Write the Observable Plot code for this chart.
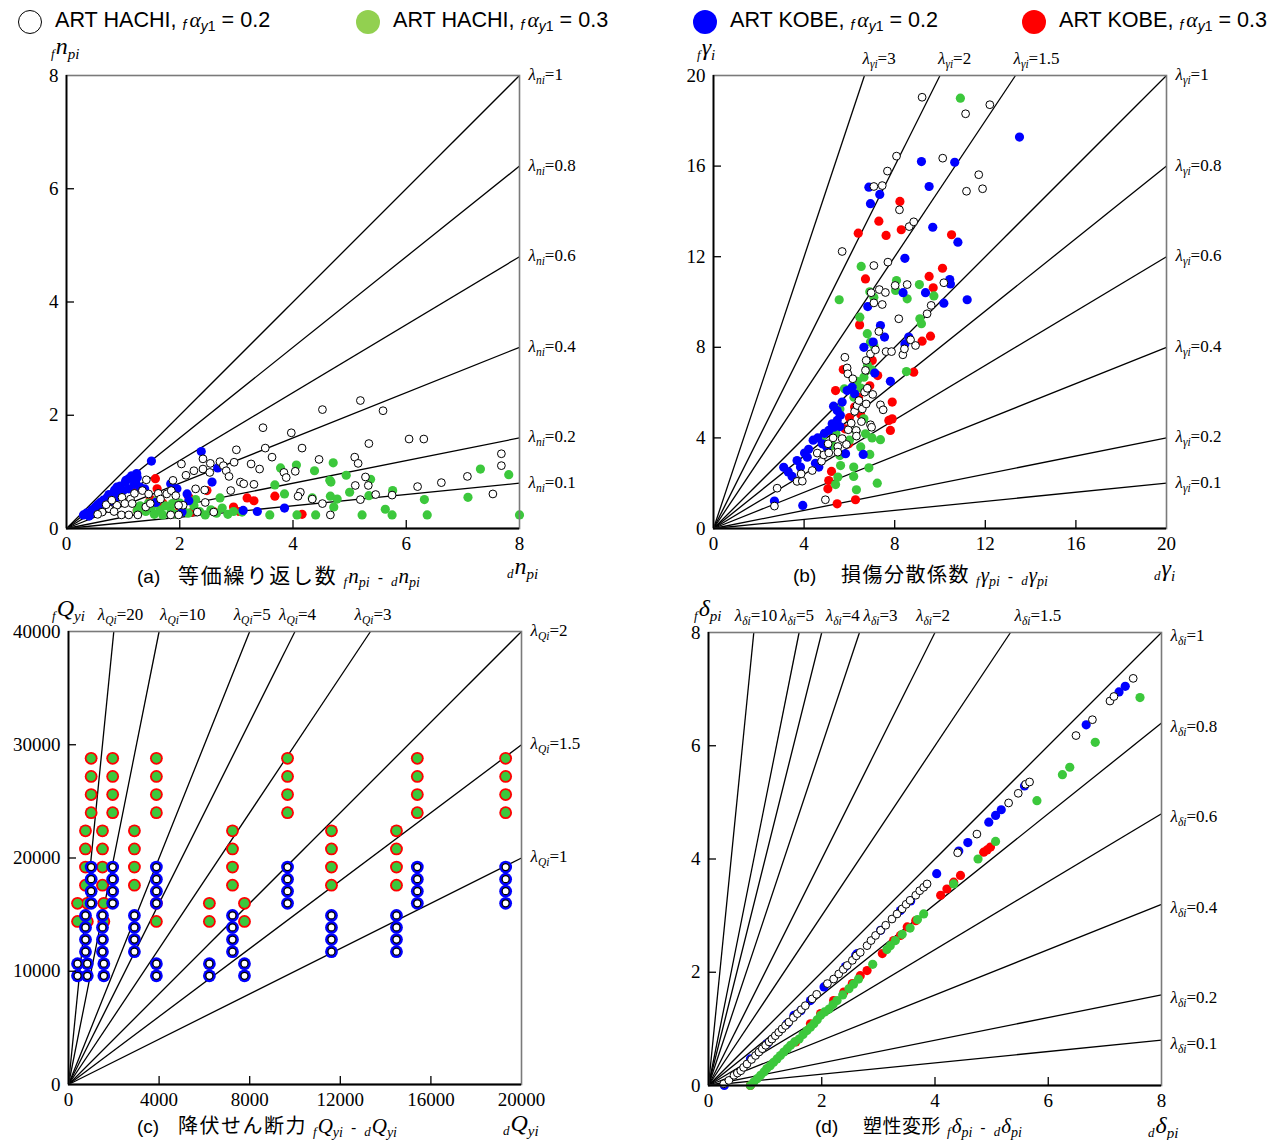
<!DOCTYPE html>
<html lang="ja">
<head>
<meta charset="utf-8">
<script src="https://cdn.jsdelivr.net/npm/d3@7"></script>
<script src="https://cdn.jsdelivr.net/npm/@observablehq/plot@0.6"></script>
<style>
html,body{margin:0;padding:0;background:#fff;overflow:hidden;}
#page{position:relative;width:1282px;height:1140px;font-family:"Liberation Sans",Arial,"Noto Sans CJK JP",sans-serif;color:#000;}
.leg{position:absolute;top:11px;height:22px;display:flex;align-items:center;font-size:21.6px;white-space:nowrap;line-height:22px;}
.mk{display:inline-block;width:24px;height:24px;border-radius:50%;box-sizing:border-box;margin-right:13px;}
.leg .fa{font-family:"Liberation Serif","Times New Roman",serif;font-style:italic;}
.leg .pf{font-size:14px;font-style:italic;vertical-align:-3px;margin-right:3px;}
.leg sub{font-size:14px;vertical-align:-4px;line-height:0;}
.ax{position:absolute;white-space:nowrap;font-family:"Liberation Serif","Times New Roman",serif;font-style:italic;line-height:1;}
.ax .p{font-size:13px;vertical-align:-4px;margin-right:1px;}
.ax .m{font-size:24px;}
.ax .s{font-size:15px;vertical-align:-5px;}
.cap{position:absolute;white-space:nowrap;height:20px;line-height:20px;font-size:19px;display:flex;align-items:baseline;}
.cap .lb{display:inline-block;}
.cap .jp{font-family:"Noto Sans CJK JP",sans-serif;font-size:20px;letter-spacing:1.5px;}
.cap .fm{font-family:"Liberation Serif","Times New Roman",serif;font-style:italic;margin-left:6px;}
.cap .fm .p{font-size:13px;vertical-align:-3px;margin-right:1px;}
.cap .fm .m{font-size:21px;}
.cap .fm .s{font-size:14px;vertical-align:-4px;}
.cap .fm .g{margin:0 8px;font-style:normal;font-family:"Liberation Sans",Arial,sans-serif;font-size:16px;}
.pn{position:absolute;}
</style>
</head>
<body>
<div id="page">
  <div class="leg" style="left:18px"><span class="mk" style="background:#fff;border:1.5px solid #000"></span><span>ART HACHI, <span class="pf">f</span><span class="fa">α</span><sub><i>y</i>1</sub> = 0.2</span></div>
  <div class="leg" style="left:356px"><span class="mk" style="background:#92d050"></span><span>ART HACHI, <span class="pf">f</span><span class="fa">α</span><sub><i>y</i>1</sub> = 0.3</span></div>
  <div class="leg" style="left:693px"><span class="mk" style="background:#0000ff"></span><span>ART KOBE, <span class="pf">f</span><span class="fa">α</span><sub><i>y</i>1</sub> = 0.2</span></div>
  <div class="leg" style="left:1022px"><span class="mk" style="background:#ff0000"></span><span>ART KOBE, <span class="pf">f</span><span class="fa">α</span><sub><i>y</i>1</sub> = 0.3</span></div>

  <div class="pn" id="pa" style="left:0px;top:40px;width:640px;height:530px"></div>
  <div class="pn" id="pb" style="left:640px;top:40px;width:642px;height:530px"></div>
  <div class="pn" id="pc" style="left:0px;top:595px;width:640px;height:525px"></div>
  <div class="pn" id="pd" style="left:640px;top:595px;width:642px;height:525px"></div>

  <div class="ax" style="left:51px;top:34px"><span class="p">f</span><span class="m">n</span><span class="s">pi</span></div>
  <div class="ax" style="left:697px;top:35px"><span class="p">f</span><span class="m">γ</span><span class="s">i</span></div>
  <div class="ax" style="left:52px;top:596px"><span class="p">f</span><span class="m">Q</span><span class="s">yi</span></div>
  <div class="ax" style="left:694px;top:596px"><span class="p">f</span><span class="m">δ</span><span class="s">pi</span></div>

  <div class="ax" style="left:507px;top:554px"><span class="p">d</span><span class="m">n</span><span class="s">pi</span></div>
  <div class="ax" style="left:1154px;top:556px"><span class="p">d</span><span class="m">γ</span><span class="s">i</span></div>
  <div class="ax" style="left:503px;top:1111px"><span class="p">d</span><span class="m">Q</span><span class="s">yi</span></div>
  <div class="ax" style="left:1148px;top:1113px"><span class="p">d</span><span class="m">δ</span><span class="s">pi</span></div>

  <div class="cap" style="left:137px;top:564px"><span class="lb" style="width:41px">(a)</span><span class="jp" style="font-size:21px;letter-spacing:1.8px">等価繰り返し数</span><span class="fm"><span class="p">f</span><span class="m">n</span><span class="s">pi</span><span class="g">-</span><span class="p">d</span><span class="m">n</span><span class="s">pi</span></span></div>
  <div class="cap" style="left:793px;top:564px"><span class="lb" style="width:48px">(b)</span><span class="jp">損傷分散係数</span><span class="fm"><span class="p">f</span><span class="m">γ</span><span class="s">pi</span><span class="g">-</span><span class="p">d</span><span class="m">γ</span><span class="s">pi</span></span></div>
  <div class="cap" style="left:137px;top:1115px"><span class="lb" style="width:41px">(c)</span><span class="jp">降伏せん断力</span><span class="fm"><span class="p">f</span><span class="m">Q</span><span class="s">yi</span><span class="g">-</span><span class="p">d</span><span class="m">Q</span><span class="s">yi</span></span></div>
  <div class="cap" style="left:815px;top:1115px"><span class="lb" style="width:48px">(d)</span><span class="jp" style="font-size:19px;letter-spacing:0.5px">塑性変形</span><span class="fm"><span class="p">f</span><span class="m">δ</span><span class="s">pi</span><span class="g">-</span><span class="p">d</span><span class="m">δ</span><span class="s">pi</span></span></div>
</div>
<script>
// ---------------- DATA ----------------
// ratio lines (λ) per panel
const aLams = [1, 0.8, 0.6, 0.4, 0.2, 0.1];
const bLams = [3, 2, 1.5, 1, 0.8, 0.6, 0.4, 0.2, 0.1];
const cLams = [20, 10, 5, 4, 3, 2, 1.5, 1];
const dLams = [10, 5, 4, 3, 2, 1.5, 1, 0.8, 0.6, 0.4, 0.2, 0.1];

// tick labels
const aTicks = [0, 2, 4, 6, 8];
const bTicks = [0, 4, 8, 12, 16, 20];
const cTicksX = [0, 4000, 8000, 12000, 16000, 20000];
const cTicksY = [0, 10000, 20000, 30000, 40000];
const dTicks = [0, 2, 4, 6, 8];

// (a) equivalent number of cycles  [d n_pi, f n_pi]
const aHachi02 = [[5.19,2.26],[4.52,2.10],[5.59,2.08],[3.47,1.78],[3.97,1.69],[6.05,1.58],[6.31,1.58],[5.34,1.50],[3.00,1.39],[3.51,1.42],[4.16,1.42],[3.63,1.26],[4.46,1.22],[5.09,1.26],[5.15,1.15],[7.68,1.32],[7.68,1.11],[2.03,1.14],[2.41,1.23],[2.54,1.15],[2.71,1.18],[2.77,1.11],[2.96,1.17],[3.26,1.14],[3.41,1.05],[2.25,1.02],[2.41,1.05],[2.53,0.99],[2.11,0.94],[2.82,1.02],[2.87,0.92],[3.84,0.99],[4.04,1.01],[3.88,0.90],[5.28,0.91],[3.07,0.82],[3.13,0.79],[3.31,0.78],[7.08,0.92],[6.62,0.81],[6.20,0.74],[5.10,0.76],[5.33,0.76],[1.88,0.85],[1.41,0.86],[2.28,0.70],[2.44,0.68],[2.90,0.67],[4.13,0.64],[4.09,0.57],[4.34,0.52],[5.46,0.60],[5.75,0.59],[7.53,0.61],[4.52,0.44],[5.19,0.51],[4.66,0.24],[1.34,0.67],[1.45,0.61],[1.62,0.62],[1.77,0.61],[1.85,0.67],[1.93,0.58],[0.98,0.55],[1.13,0.52],[0.89,0.41],[1.03,0.44],[1.16,0.44],[0.75,0.35],[0.84,0.30],[0.97,0.24],[1.10,0.24],[1.26,0.24],[0.63,0.29],[1.40,0.38],[1.48,0.44],[1.66,0.52],[1.84,0.24],[1.98,0.24],[2.06,0.41],[1.98,0.41],[2.31,0.29],[2.45,0.46],[2.60,0.29],[0.55,0.25],[0.70,0.42],[1.20,0.62],[0.80,0.50]];
const aHachi03 = [[3.78,1.07],[4.06,1.12],[4.38,1.02],[4.71,1.16],[4.94,0.94],[4.65,0.85],[4.67,0.82],[5.37,0.87],[7.31,1.05],[7.81,0.95],[3.68,0.77],[3.85,0.61],[4.34,0.54],[4.66,0.57],[4.78,0.52],[5.00,0.64],[4.72,0.38],[5.34,0.58],[5.76,0.67],[5.63,0.34],[5.75,0.24],[6.32,0.51],[6.37,0.24],[7.09,0.55],[8.00,0.24],[5.22,0.24],[4.40,0.24],[4.07,0.24],[3.59,0.24],[3.10,0.29],[2.71,0.54],[2.28,0.51],[1.87,0.44],[1.40,0.30],[1.50,0.38],[1.55,0.25],[1.65,0.33],[1.70,0.24],[1.75,0.40],[1.85,0.30],[1.95,0.25],[2.05,0.35],[2.15,0.27],[2.25,0.40],[2.35,0.30],[2.45,0.24],[2.55,0.33],[2.65,0.27],[2.75,0.36],[2.85,0.25],[2.95,0.30],[1.30,0.40],[1.45,0.45],[1.60,0.50],[1.25,0.32],[2.00,0.45]];
const aKobe02 = [[2.38,1.36],[1.50,1.19],[1.16,0.91],[1.24,0.97],[1.10,0.88],[1.04,0.82],[0.89,0.73],[0.84,0.64],[0.72,0.55],[0.60,0.46],[0.51,0.38],[0.42,0.26],[1.22,0.82],[1.30,0.73],[1.00,0.67],[1.84,0.79],[1.95,0.70],[2.13,0.61],[2.57,0.82],[2.67,1.07],[2.16,0.49],[3.37,0.30],[3.85,0.36],[3.12,0.32],[2.04,0.29],[0.35,0.27],[0.45,0.33],[0.55,0.42],[0.65,0.50],[0.75,0.60],[0.85,0.68],[0.95,0.75],[1.05,0.85],[1.15,0.93],[1.20,0.78],[1.10,0.70],[0.95,0.62],[0.90,0.55],[0.80,0.48],[0.70,0.40],[0.60,0.35],[1.25,0.90],[0.30,0.24],[0.40,0.22],[1.38,0.70],[1.58,0.46]];
const aKobe03 = [[3.19,0.54],[3.31,0.49],[3.68,0.57],[4.16,0.25],[2.95,0.38],[2.48,0.67],[2.16,0.55],[1.57,0.88],[1.60,0.70],[1.24,0.72],[1.48,0.52],[2.22,0.29],[1.25,0.32],[1.70,0.45],[2.00,0.36],[2.60,0.30],[3.05,0.30]];

// (b) damage dispersion factor [d γ_i, f γ_i]
const bHachi02 = [[9.21,19.04],[11.13,18.31],[12.20,18.71],[10.12,16.35],[8.08,16.44],[7.68,15.78],[7.08,15.10],[7.45,15.14],[11.71,15.62],[11.17,14.89],[11.88,15.00],[8.21,14.07],[8.64,13.33],[8.84,13.54],[5.68,12.23],[7.08,11.61],[7.70,11.76],[10.17,10.85],[8.02,10.73],[6.96,10.41],[7.32,10.55],[7.59,10.42],[8.55,10.77],[2.81,1.78],[2.69,0.99],[3.69,2.08],[3.92,2.09],[3.87,2.41],[4.36,2.56],[4.58,3.33],[4.77,2.97],[4.87,3.25],[5.09,3.34],[5.06,3.74],[5.28,4.00],[5.49,3.62],[5.49,3.37],[5.68,3.97],[5.87,3.71],[5.95,4.36],[6.30,4.33],[6.31,4.08],[6.08,4.65],[6.53,4.72],[6.93,4.58],[6.98,4.47],[6.23,5.17],[6.34,5.43],[6.57,5.28],[6.74,5.50],[7.03,5.92],[6.67,6.02],[6.79,6.19],[6.42,5.65],[7.37,5.46],[7.49,5.24],[4.94,1.27],[5.80,7.56],[5.90,7.09],[5.93,6.83],[6.15,6.61],[6.71,6.98],[6.74,7.42],[6.93,7.71],[7.15,7.89],[7.62,7.81],[7.86,7.81],[8.36,7.67],[8.43,7.93],[8.70,8.33],[8.92,8.08],[7.30,8.70],[8.18,9.26],[9.61,9.85],[9.43,9.48],[7.08,9.96],[7.45,9.89]];
const bHachi03 = [[10.90,19.00],[6.52,11.57],[8.08,10.95],[9.09,10.77],[9.73,10.27],[8.55,10.14],[6.90,10.45],[5.55,10.10],[6.46,9.33],[6.79,8.60],[6.93,8.23],[7.08,8.08],[6.34,6.50],[6.64,6.68],[5.78,6.17],[5.58,5.28],[6.64,4.84],[6.71,4.18],[7.37,3.92],[4.80,4.03],[5.24,3.66],[5.58,3.22],[5.61,2.78],[6.19,2.71],[6.19,2.30],[6.86,2.68],[6.90,3.27],[7.23,2.00],[6.31,1.71],[5.39,1.94],[5.49,2.27],[8.52,6.93],[9.11,9.26],[9.18,9.04],[7.08,10.21],[8.04,10.51],[6.20,5.80],[6.50,6.20],[6.80,7.20],[7.00,7.00],[6.30,4.30],[6.00,3.90],[5.40,4.20],[6.50,3.60],[7.00,4.00]];
const bKobe02 = [[13.51,17.28],[9.18,16.20],[10.65,16.17],[6.86,15.07],[7.34,14.75],[6.93,14.34],[9.52,15.10],[9.68,13.30],[10.79,12.64],[8.45,11.93],[8.37,10.41],[9.36,10.41],[10.43,10.99],[10.46,10.80],[11.20,10.10],[2.69,1.21],[3.94,1.02],[3.47,2.30],[3.84,2.71],[3.69,3.00],[4.02,3.33],[4.14,3.15],[4.50,2.88],[4.65,2.71],[4.80,3.74],[5.09,4.33],[5.24,4.62],[5.46,4.77],[5.46,5.21],[5.68,5.58],[5.90,6.09],[6.12,6.24],[6.23,5.95],[5.31,4.47],[5.58,4.50],[5.83,3.30],[6.61,3.27],[7.12,6.86],[6.64,8.00],[7.05,8.23],[7.37,8.96],[7.55,8.45],[7.81,6.50],[8.62,8.45],[8.45,8.15],[10.17,9.95],[6.81,9.80],[4.40,3.90],[4.60,4.00],[4.90,4.20],[5.00,3.60],[5.60,5.00],[5.30,5.40],[3.30,2.50],[3.10,2.70],[4.20,3.50]];
const bKobe03 = [[8.23,14.44],[7.30,13.57],[6.39,13.04],[7.62,12.94],[8.29,13.19],[10.51,12.97],[6.71,11.02],[9.52,11.13],[10.11,11.49],[9.70,10.63],[5.46,1.09],[6.27,1.27],[5.05,1.75],[5.09,2.12],[5.21,2.52],[5.97,3.74],[7.81,4.33],[7.74,4.77],[7.89,4.84],[7.89,5.58],[7.25,6.75],[5.39,6.09],[5.73,7.02],[6.45,8.99],[7.01,7.42],[8.84,6.90],[9.21,8.27],[9.58,8.49],[6.23,5.36],[6.49,5.06],[6.00,4.90],[5.80,4.40],[6.40,5.80],[6.90,6.30]];

// (c) yield shear force: column values (d Q_yi) and row values (f Q_yi)
const cDQ_A = [1000, 1950, 3880, 9670, 15400, 19300];
const cDQ_B = [750, 1500, 2910, 7240, 11610, 14480];
const cDQ_C = [400, 830, 1560, 3880, 6220, 7770];
const cFQ02_A = [19200, 18130, 17070, 16000];
const cFQ02_B = [14930, 13870, 12800, 11730];
const cFQ02_C = [10670, 9600];
const cFQ03_A = [28800, 27200, 25600, 24000];
const cFQ03_B = [22400, 20800, 19200, 17600];
const cFQ03_C = [16000, 14400];

// (d) plastic deformation [d δ_pi, f δ_pi]
const dHachi02 = [[0.27,0.03],[0.36,0.09],[0.45,0.18],[0.51,0.22],[0.57,0.26],[0.62,0.32],[0.68,0.38],[0.76,0.46],[0.83,0.53],[0.89,0.59],[0.95,0.65],[1.01,0.71],[1.07,0.77],[1.12,0.82],[1.18,0.88],[1.24,0.94],[1.30,1.00],[1.36,1.06],[1.42,1.12],[1.50,1.20],[1.57,1.27],[1.64,1.34],[1.71,1.41],[1.83,1.53],[1.91,1.61],[2.10,1.80],[2.21,1.88],[2.30,1.97],[2.38,2.05],[2.45,2.12],[2.54,2.21],[2.61,2.29],[2.68,2.35],[2.80,2.47],[2.87,2.56],[2.95,2.65],[3.04,2.74],[3.13,2.83],[3.24,2.94],[3.33,3.03],[3.42,3.12],[3.49,3.20],[3.56,3.27],[3.66,3.36],[3.73,3.44],[3.80,3.50],[3.86,3.56],[4.40,4.11],[4.74,4.44],[5.30,4.99],[5.47,5.16],[5.60,5.32],[5.67,5.36],[6.49,6.18],[6.78,6.46],[7.09,6.79],[7.16,6.87],[7.50,7.19]];
const dHachi03 = [[0.74,0.00],[0.80,0.06],[0.86,0.12],[0.92,0.18],[0.98,0.24],[1.03,0.30],[1.09,0.35],[1.15,0.41],[1.21,0.47],[1.27,0.53],[1.33,0.59],[1.39,0.65],[1.45,0.71],[1.52,0.77],[1.60,0.82],[1.67,0.90],[1.74,0.97],[1.80,1.03],[1.86,1.09],[1.92,1.16],[1.98,1.24],[2.05,1.30],[2.13,1.35],[2.20,1.43],[2.27,1.50],[2.37,1.60],[2.48,1.71],[2.56,1.79],[2.65,1.88],[2.90,2.14],[3.15,2.40],[3.21,2.47],[3.30,2.56],[3.42,2.67],[3.56,2.78],[3.69,2.93],[3.80,3.03],[4.33,3.56],[4.76,4.00],[5.07,4.31],[5.80,5.03],[6.25,5.49],[6.38,5.62],[6.83,6.06],[7.62,6.85]];
const dKobe02 = [[0.28,0.00],[0.74,0.47],[1.04,0.74],[1.39,1.09],[1.51,1.24],[1.63,1.32],[1.80,1.50],[2.04,1.74],[2.42,2.10],[2.60,2.30],[2.63,2.33],[3.04,2.74],[3.39,3.09],[3.57,3.26],[4.03,3.74],[4.42,4.14],[4.58,4.29],[4.95,4.65],[5.07,4.77],[5.17,4.87],[5.58,5.29],[6.67,6.37],[7.25,6.95],[7.36,7.05]];
const dKobe03 = [[0.74,0.00],[1.54,0.77],[1.80,1.09],[1.98,1.27],[2.21,1.50],[2.39,1.65],[2.54,1.80],[2.68,1.94],[2.80,2.03],[3.07,2.33],[3.27,2.56],[3.39,2.65],[3.51,2.80],[3.66,2.91],[4.10,3.36],[4.21,3.47],[4.33,3.59],[4.45,3.71],[4.86,4.12],[4.92,4.16],[4.98,4.21]];

// ---------------- RENDER ----------------
const SERIF = "'Liberation Serif','Times New Roman',serif";
const RED = "#ff0000", BLUE = "#0000ff", GREEN = "#3cc83c";

function cross(cols, rows) { const out = []; for (const c of cols) for (const r of rows) out.push([c, r]); return out; }

function richText(svg) {
  const ns = "http://www.w3.org/2000/svg";
  svg.querySelectorAll("text").forEach(t => {
    const s = t.textContent;
    if (!s.includes("|")) return;
    const [a, b, c] = s.split("|");
    while (t.firstChild) t.removeChild(t.firstChild);
    const t1 = document.createElementNS(ns, "tspan"); t1.textContent = a; t1.setAttribute("font-style", "italic");
    const t2 = document.createElementNS(ns, "tspan"); t2.textContent = b; t2.setAttribute("font-style", "italic"); t2.setAttribute("font-size", "11.5"); t2.setAttribute("dy", "4");
    const t3 = document.createElementNS(ns, "tspan"); t3.textContent = c; t3.setAttribute("dy", "-4");
    t.append(t1, t2, t3);
  });
}

function dotsSmall(red, green, blue, white) {
  const xy = {x: d => d[0], y: d => d[1]};
  return [
    Plot.dot(red, {...xy, r: 4.6, fill: RED}),
    Plot.dot(green, {...xy, r: 4.6, fill: GREEN}),
    Plot.dot(blue, {...xy, r: 4.6, fill: BLUE}),
    Plot.dot(white, {...xy, r: 3.9, fill: "#fff", stroke: "#000", strokeWidth: 1})
  ];
}

function buildPanel(cfg) {
  const {xd, yd, W, H, ml, mr, mt, mb, lams, sub, xt, yt, inner, dots, topGroups, rdy} = cfg;
  const xmax = xd[1], ymax = yd[1];
  const ends = lams.map(l => (l * xmax <= ymax + 1e-9)
    ? {l, x2: xmax, y2: l * xmax, side: "right"}
    : {l, x2: ymax / l, y2: ymax, side: "top"});
  const fw = W - ml - mr, fh = H - mt - mb;
  const lab = e => `λ|${sub}|=${e.l}`;
  const marks = [
    Plot.link(ends, {x1: () => 0, y1: () => 0, x2: "x2", y2: "y2", stroke: "#000", strokeWidth: 1.3}),
    ...dots,
    Plot.frame({stroke: "#7a7a7a", strokeWidth: 1.6}),
    Plot.ruleX([xd[0]], {stroke: "#000", strokeWidth: 1.8}),
    Plot.ruleY([yd[0]], {stroke: "#000", strokeWidth: 1.8}),
    Plot.tickX(inner.x, {x: d => d, insetTop: fh - 8, stroke: "#000", strokeWidth: 1.3}),
    Plot.tickY(inner.y, {y: d => d, insetRight: fw - 8, stroke: "#000", strokeWidth: 1.3}),
    Plot.text(ends.filter(e => e.side === "right"), {x: "x2", y: "y2", text: lab, textAnchor: "start", dx: 9, dy: rdy, fontSize: 17, fontFamily: SERIF}),
    ...topGroups.map(g => Plot.text(ends.filter(e => e.side === "top" && g.lams.includes(e.l)),
      {x: "x2", y: "y2", text: lab, textAnchor: "start", dx: g.dx, dy: -17, fontSize: 17, fontFamily: SERIF}))
  ];
  const svg = Plot.plot({
    width: W, height: H, marginLeft: ml, marginRight: mr, marginTop: mt, marginBottom: mb,
    x: {domain: xd, ticks: xt, tickSize: 0, tickPadding: 8, tickFormat: d => String(d), label: null},
    y: {domain: yd, ticks: yt, tickSize: 0, tickPadding: 8, tickFormat: d => String(d), label: null},
    style: {fontFamily: SERIF, fontSize: "19px", background: "transparent", overflow: "visible", color: "#000"},
    marks
  });
  richText(svg);
  return svg;
}

// (a)
document.getElementById("pa").append(buildPanel({
  xd: [0, 8], yd: [0, 8], W: 640, H: 530, ml: 66, mr: 121, mt: 35, mb: 42, rdy: -1,
  lams: aLams, sub: "ni", xt: aTicks, yt: aTicks, inner: {x: [2, 4, 6], y: [2, 4, 6]},
  dots: dotsSmall(aKobe03, aHachi03, aKobe02, aHachi02), topGroups: []
}));
// (b)
document.getElementById("pb").append(buildPanel({
  xd: [0, 20], yd: [0, 20], W: 642, H: 530, ml: 73, mr: 116, mt: 35, mb: 42, rdy: -1,
  lams: bLams, sub: "γi", xt: bTicks, yt: bTicks, inner: {x: [4, 8, 12, 16], y: [4, 8, 12, 16]},
  dots: dotsSmall(bKobe03, bHachi03, bKobe02, bHachi02), topGroups: [{lams: [3, 2, 1.5], dx: -2}]
}));
// (c)
const c03 = [...cross(cDQ_A, cFQ03_A), ...cross(cDQ_B, cFQ03_B), ...cross(cDQ_C, cFQ03_C)];
const c02 = [...cross(cDQ_A, cFQ02_A), ...cross(cDQ_B, cFQ02_B), ...cross(cDQ_C, cFQ02_C)];
const cxy = {x: d => d[0], y: d => d[1]};
document.getElementById("pc").append(buildPanel({
  xd: [0, 20000], yd: [0, 40000], W: 640, H: 525, ml: 68, mr: 119, mt: 36, mb: 36, rdy: -1,
  lams: cLams, sub: "Qi", xt: cTicksX, yt: cTicksY, inner: {x: [4000, 8000, 12000, 16000], y: [10000, 20000, 30000]},
  dots: [
    Plot.dot(c03, {...cxy, r: 6.4, fill: RED}),          // ART KOBE 0.3
    Plot.dot(c03, {...cxy, r: 4.6, fill: GREEN}),        // ART HACHI 0.3
    Plot.dot(c02, {...cxy, r: 6.4, fill: BLUE}),         // ART KOBE 0.2
    Plot.dot(c02, {...cxy, r: 3.5, fill: "#fff", stroke: "#000", strokeWidth: 1.3}) // ART HACHI 0.2
  ],
  topGroups: [{lams: [20, 5, 4, 3], dx: -16}, {lams: [10], dx: 1}]
}));
// (d)
document.getElementById("pd").append(buildPanel({
  xd: [0, 8], yd: [0, 8], W: 642, H: 525, ml: 68, mr: 121, mt: 37, mb: 35, rdy: 3,
  lams: dLams, sub: "δi", xt: dTicks, yt: dTicks, inner: {x: [2, 4, 6], y: [2, 4, 6]},
  dots: dotsSmall(dKobe03, dHachi03, dKobe02, dHachi02),
  topGroups: [{lams: [10, 5, 2], dx: -19}, {lams: [4, 3, 1.5], dx: 4}]
}));
</script>
</body>
</html>
